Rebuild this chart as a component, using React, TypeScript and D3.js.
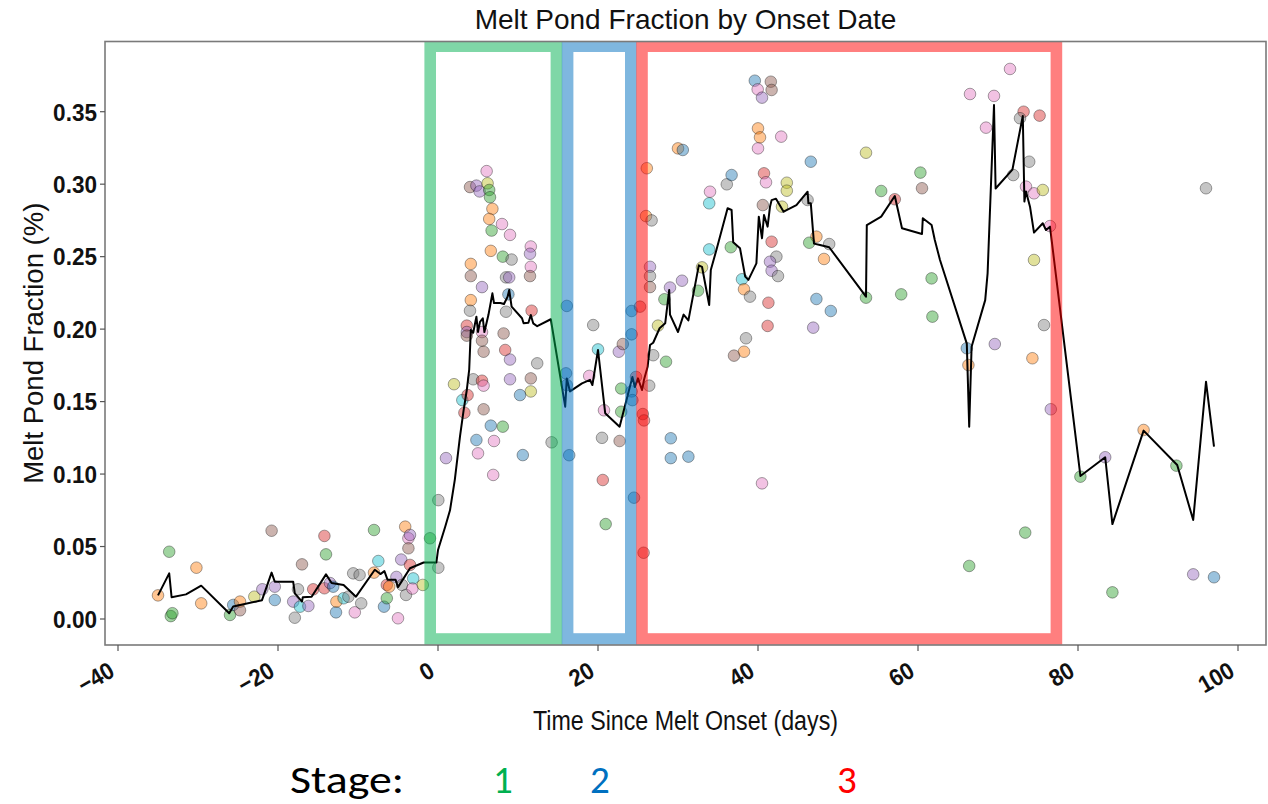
import React from "react";
import * as d3 from "d3";

// ---------- data ----------
const pointDay: number[] = [
  -35, -33.6, -33.4, -33.2, -30.2, -29.6, -26, -25.6, -24.75, -24.75, -22.96, -21.96, -20.8, -20.4, -20.4,
  -17.5, -18.1, -17.9, -17.25, -16.2, -17, -15.6, -14.2, -14, -14.2, -13.5, -13.1, -12.75, -12.7, -11.8,
  -11.2, -10.6, -9.8, -10.4, -9.6, -8, -8, -7.46, -6.75, -6.4, -6.4, -6.1, -5.2, -5, -4.6,
  -4.1, -3.7, -3.5, -3.7, -3.5, -4.5, -4, -3.1, -3.2, -1.9, -1, 0.04, 0.04, 1, 2,
  // stage 1
  6.08, 4, 4.8, 5.2, 6.2, 6.4, 6.5, 6.8, 6.4, 6.7, 8.0, 9, 6.6, 8.1, 9.2,
  11.6, 11.5, 11.6, 11.5, 4.1, 4.1, 8.5, 8.9, 5.5, 8.8, 4.1, 4, 8.5, 11.7, 3.6,
  3.6, 3.6, 5.5, 5.5, 5.7, 8.2, 8.4, 9, 12.4, 4.4, 5.5, 5.7, 9, 11.6, 11.6,
  10.25, 3.04, 3.7, 3.3, 5.7, 6.6, 8.1, 4.8, 7.0, 14.2, 5.0, 10.6, 6.9,
  // stage 2
  16.1, 16, 16.1, 16.4, 19.4, 20, 18.9, 22.6, 23.1, 24.2, 22.9, 20.75, 22.9, 20.5, 22.7,
  20.6, 20.96, 24.5, 25.7, 24.75, 24.2, 24.3, 24.2, 25.25,
  // stage 3
  26.1, 26, 26.7, 26.5, 26.5, 26.5, 25.6, 25.75, 26.4, 26.9, 28.5, 27.5, 29.1, 29.1, 31.3,
  40.5, 28.3, 29, 30.5, 32.5, 33, 33.9, 33.9, 34, 36.1, 36.7, 36.6, 38, 38.25, 39,
  38.5, 38.25, 37, 40.75, 41, 40.6, 41.7, 42.3, 41.5, 41.7, 42.5, 41.3, 41.2, 43.6, 43.6,
  43, 39.6, 41.6, 39.96, 41.7, 40.5, 40, 40.25, 40, 42.9, 30, 30.6, 46.6, 53.5, 60.3,
  60.5, 55.4, 57.1, 46.2, 47.3, 46.4, 48.9, 48.25, 53.5, 57.9, 61.7, 61.8, 47.3, 49.1, 46.9,
  66.1, 66.3, 69.6, 66.4, 71.5, 66.5, 69.5, 68.5, 73.2, 72.75, 75.2, 73.9, 71.9, 73.5, 74.5,
  75.6, 76.5, 74.5, 75.75, 74.3, 76.6, 73.4,
  // after
  80.3, 83.4, 88.2, 92.3, 84.3, 94.4, 97, 96,
];

const pointValue: number[] = [
  0.0163, 0.0464, 0.002, 0.004, 0.0354, 0.0108, 0.0028, 0.0097, 0.012, 0.006, 0.0154, 0.0205, 0.0609, 0.0223, 0.0131,
  0.0205, 0.012, 0.0009, 0.0085, 0.009, 0.0377, 0.0205, 0.0573, 0.0446, 0.0212, 0.0248, 0.0223, 0.0046, 0.012, 0.0143,
  0.0154, 0.0315, 0.0304, 0.0046, 0.0108, 0.0614, 0.032, 0.04, 0.0085, 0.0143, 0.0235, 0.0223, 0.029, 0.0005, 0.041,
  0.0637, 0.0557, 0.058, 0.0488, 0.0373, 0.0235, 0.0166, 0.028, 0.021, 0.0235, 0.0557, 0.082, 0.0354, 0.111, 0.162,
  0.309, 0.298, 0.299, 0.295, 0.3006, 0.296, 0.291, 0.283, 0.276, 0.268, 0.2725, 0.265, 0.254, 0.25, 0.248,
  0.257, 0.252, 0.243, 0.2366, 0.245, 0.2366, 0.2357, 0.2357, 0.229, 0.224, 0.22, 0.2127, 0.212, 0.2127, 0.2024,
  0.198, 0.1955, 0.198, 0.192, 0.1844, 0.197, 0.1856, 0.179, 0.1764, 0.1654, 0.1644, 0.161, 0.1654, 0.166, 0.157,
  0.1545, 0.151, 0.1545, 0.1423, 0.1447, 0.1334, 0.1327, 0.1235, 0.1228, 0.1219, 0.1143, 0.1131, 0.0994,
  0.216, 0.1695, 0.1614, 0.113, 0.2028, 0.186, 0.1677, 0.1844, 0.1897, 0.1964, 0.159, 0.144, 0.143, 0.125, 0.1228,
  0.0959, 0.0655, 0.0837, 0.0457, 0.167, 0.157, 0.151, 0.2125, 0.2155,
  0.311, 0.278, 0.275, 0.243, 0.2366, 0.229, 0.1414, 0.137, 0.161, 0.182, 0.1775, 0.2024, 0.1247, 0.111, 0.112,
  0.0936, 0.2206, 0.2287, 0.2334, 0.2265, 0.2426, 0.255, 0.2868, 0.2948, 0.2999, 0.3063, 0.2565, 0.2344, 0.2275, 0.2224,
  0.1937, 0.1844, 0.1817, 0.3075, 0.3013, 0.2856, 0.2603, 0.25, 0.2465, 0.2403, 0.2366, 0.2182, 0.2022, 0.301, 0.2955,
  0.2845, 0.3714, 0.3707, 0.3654, 0.365, 0.3597, 0.3385, 0.3323, 0.3247, 0.3328, 0.3247, 0.3236, 0.3155, 0.3217, 0.308,
  0.2972, 0.2953, 0.2896, 0.2891, 0.2638, 0.2596, 0.2587, 0.2484, 0.2217, 0.224, 0.235, 0.2086, 0.2208, 0.2125, 0.201,
  0.1868, 0.1752, 0.1897, 0.0366, 0.3795, 0.3622, 0.3609, 0.339, 0.35, 0.3455, 0.3473, 0.3155, 0.3063, 0.2983, 0.2937,
  0.296, 0.2711, 0.2477, 0.2028, 0.1799, 0.1447, 0.0596,
  0.0982, 0.1116, 0.1304, 0.1058, 0.0184, 0.0308, 0.0288, 0.2972,
];

// series group index (0..9, matplotlib tab10 order)
const pointGroup: number[] = [
  1, 2, 2, 2, 1, 1, 2, 0, 1, 5, 8, 4, 5, 4, 0,
  7, 4, 7, 9, 4, 5, 3, 3, 2, 3, 4, 0, 0, 1, 9,
  7, 7, 7, 6, 7, 2, 1, 9, 0, 2, 3, 1, 4, 6, 4,
  1, 6, 4, 5, 3, 7, 7, 9, 6, 8, 2, 7, 7, 4, 8,
  6, 5, 4, 4, 8, 2, 2, 1, 1, 2, 6, 6, 1, 2, 7,
  6, 4, 6, 5, 1, 5, 7, 4, 4, 0, 1, 7, 7, 3, 3,
  4, 5, 6, 5, 5, 5, 3, 4, 7, 7, 3, 6, 4, 5, 8,
  0, 9, 3, 3, 5, 0, 2, 0, 6, 7, 6, 0, 6,
  0, 0, 0, 0, 7, 9, 6, 4, 5, 0, 2, 6, 2, 7, 5,
  3, 2, 0, 3, 3, 0, 0, 0, 3,
  1, 1, 7, 4, 7, 5, 3, 3, 7, 7, 2, 8, 0, 0, 0,
  6, 2, 4, 4, 2, 8, 9, 9, 6, 7, 0, 2, 9, 1, 7,
  7, 1, 5, 3, 6, 5, 3, 7, 4, 4, 7, 3, 3, 8, 8,
  8, 0, 5, 6, 5, 4, 1, 1, 6, 6, 1, 0, 0, 8, 2,
  5, 2, 3, 7, 1, 2, 7, 1, 2, 2, 2, 2, 0, 0, 4,
  0, 1, 4, 2, 6, 6, 6, 6, 3, 7, 3, 7, 7, 6, 6,
  8, 6, 8, 7, 1, 4, 2,
  2, 4, 1, 2, 2, 4, 0, 7,
];

const lineDay: number[] = [
  -35, -33.6, -33.3, -31.5, -29.6, -26.1, -25.6, -22, -20.8, -20.4, -18.1, -17.9, -17, -16.9, -15.8,
  -14, -13.3, -11.8, -10.25, -7.9, -7.2, -6.7, -6.3, -5.3, -5, -4.3, -3.5, -1.8, -0.2, 0,
  0.9, 1.5, 2.1, 2.75, 3.2, 3.6, 3.9, 4.1, 4.4, 4.8, 5.0, 5.25, 5.6, 5.8, 6.3,
  6.8, 7.0, 7.8, 8.25, 8.7, 8.9, 9.2, 10.5, 10.7, 11.3, 11.6, 11.9, 12.4, 14.1, 15.9,
  16.1, 16.5, 18, 19, 19.3, 20, 20.9, 22.7, 24.3, 24.6, 25, 25.5, 25.75, 26.2, 26.5,
  26.9, 27.7, 28.4, 28.9, 29, 30, 30.7, 31.3, 32.6, 33, 33.9, 34.1, 34.8, 36.2, 36.7,
  36.9, 37.75, 38.4, 38.8, 39.8, 40.1, 40.5, 40.75, 41.2, 41.5, 41.7, 42.25, 43.2, 44.8, 46.2,
  46.3, 46.6, 47, 47.75, 48.9, 53.5, 53.6, 55.4, 57.1, 58, 60.5, 60.6, 61.7, 62.1, 62.75,
  66.1, 66.4, 66.7, 68.4, 68.7, 69.5, 69.7, 71.8, 73.1, 73.3, 73.5, 74, 74.5, 75.6, 76,
  76.5, 80.3, 83.4, 84.3, 88.2, 92.4, 94.4, 96, 97,
];

const lineValue: number[] = [
  0.0163, 0.0315, 0.015, 0.017, 0.023, 0.004, 0.0086, 0.013, 0.032, 0.0257, 0.0257, 0.0177, 0.012, 0.015, 0.0154,
  0.0308, 0.0248, 0.0235, 0.0154, 0.034, 0.031, 0.033, 0.027, 0.027, 0.022, 0.028, 0.035, 0.039, 0.039, 0.0476,
  0.0637, 0.075, 0.096, 0.126, 0.144, 0.158, 0.172, 0.1994, 0.1975, 0.2086, 0.198, 0.205, 0.2075, 0.198, 0.2097,
  0.2247, 0.218, 0.218, 0.2173, 0.2224, 0.227, 0.2155, 0.2075, 0.204, 0.2044, 0.2097, 0.204, 0.202, 0.2068, 0.1465,
  0.166, 0.157, 0.1626, 0.165, 0.1614, 0.1856, 0.142, 0.1327, 0.167, 0.16, 0.166, 0.158, 0.165, 0.174, 0.189,
  0.1906, 0.2006, 0.204, 0.227, 0.21, 0.198, 0.21, 0.206, 0.244, 0.243, 0.2166, 0.2408, 0.2546, 0.2834, 0.2822,
  0.26, 0.2558, 0.2362, 0.234, 0.2454, 0.2776, 0.2627, 0.2787, 0.2707, 0.2845, 0.289, 0.29, 0.281, 0.2856, 0.2948,
  0.2868, 0.2868, 0.259, 0.258, 0.2565, 0.2224, 0.2718, 0.2776, 0.2918, 0.2696, 0.2656, 0.2765, 0.2718, 0.2615, 0.2477,
  0.19, 0.1327, 0.1879, 0.22, 0.2385, 0.3546, 0.297, 0.31, 0.347, 0.288, 0.295, 0.2845, 0.2666, 0.273, 0.2684,
  0.2707, 0.0987, 0.1116, 0.0655, 0.13, 0.1062, 0.0683, 0.1637, 0.1189,
];

const xTicks: number[] = [-40, -20, 0, 20, 40, 60, 80, 100];
const yTicks: number[] = [0, 0.05, 0.1, 0.15, 0.2, 0.25, 0.3, 0.35];

const stageLabels: string[] = ["1", "2", "3"];
const stageStart: number[] = [-0.975, 16.2, 25.5];
const stageEnd: number[] = [14.8, 24.1, 77.3];
const stageColors: string[] = ["#00b050", "#0070c0", "#ff0000"];

const titleText = "Melt Pond Fraction by Onset Date";
const xLabelText = "Time Since Melt Onset (days)";
const yLabelText = "Melt Pond Fraction (%)";

// ---------- layout ----------
const W = 1268;
const H = 804;
const L = 105, R = 1266, T = 41.5, B = 645;
const stageTextX = [503, 600, 847];

export default function App() {
  const x = d3.scaleLinear().domain([-41.625, 103.5]).range([L, R]);
  const y = d3.scaleLinear().domain([-0.01794, 0.39844]).range([B, T]);
  const color = d3.scaleOrdinal<number, string>().domain(d3.range(10)).range(d3.schemeCategory10);
  const line = d3.line<number>().x((_, i) => x(lineDay[i])).y((_, i) => y(lineValue[i]));
  const boxTop = y(0.3952);
  const boxBottom = y(-0.0138);
  const fmt = d3.format(".2f");
  const sans = "'Liberation Sans', Arial, sans-serif";
  const stageFont = "Carlito, Calibri, Lato, sans-serif";

  return (
    <svg width={W} height={H} style={{ position: "absolute", left: 0, top: 0, background: "#fff" }}>
      <defs>
        <clipPath id="plotclip">
          <rect x={L} y={T} width={R - L} height={B - T} />
        </clipPath>
      </defs>
      <rect x={0} y={0} width={W} height={H} fill="#fff" />
      <g clipPath="url(#plotclip)">
        {pointDay.map((d, i) => (
          <circle
            key={i}
            cx={x(d)}
            cy={y(pointValue[i])}
            r={5.8}
            fill={color(pointGroup[i])}
            fillOpacity={0.45}
            stroke="#000"
            strokeOpacity={0.35}
            strokeWidth={1}
          />
        ))}
        <path d={line(lineDay) || ""} fill="none" stroke="#000" strokeWidth={2} strokeLinejoin="round" />
        {stageLabels.map((s, i) => (
          <rect
            key={s}
            x={x(stageStart[i])}
            y={boxTop}
            width={x(stageEnd[i]) - x(stageStart[i])}
            height={boxBottom - boxTop}
            fill="none"
            stroke={stageColors[i]}
            strokeOpacity={0.5}
            strokeWidth={11.6}
          />
        ))}
      </g>
      {/* frame */}
      <rect x={L} y={T} width={R - L} height={B - T} fill="none" stroke="#7a7a7a" strokeWidth={1.6} />
      {/* y ticks */}
      {yTicks.map((t) => (
        <g key={t}>
          <line x1={L - 5} x2={L} y1={y(t)} y2={y(t)} stroke="#555" strokeWidth={1.2} />
          <text
            x={97}
            y={y(t)}
            dy="0.36em"
            textAnchor="end"
            fontFamily={sans}
            fontWeight="bold"
            fontSize={24.5}
            fill="#111"
            transform={`translate(97,0) scale(0.92,1) translate(-97,0)`}
          >
            {fmt(t)}
          </text>
        </g>
      ))}
      {/* x ticks */}
      {xTicks.map((t) => (
        <g key={t}>
          <line x1={x(t)} x2={x(t)} y1={B} y2={B + 6} stroke="#555" strokeWidth={1.2} />
          <g transform={`translate(${x(t) - 6},668) rotate(-30) scale(0.92,1)`}>
            <text
              x={0}
              y={0}
              dy="0.35em"
              textAnchor="end"
              fontFamily={sans}
              fontWeight="bold"
              fontSize={24}
              fill="#111"
            >
              {t < 0 ? "\u2212" + Math.abs(t) : String(t)}
            </text>
          </g>
        </g>
      ))}
      {/* title */}
      <text x={(L + R) / 2} y={29} textAnchor="middle" fontFamily={sans} fontSize={28} fill="#111">
        {titleText}
      </text>
      {/* axis labels */}
      <text
        x={(L + R) / 2}
        y={730}
        textAnchor="middle"
        fontFamily={sans}
        fontSize={27}
        fill="#111"
        textLength={305}
        lengthAdjust="spacingAndGlyphs"
      >
        {xLabelText}
      </text>
      <text
        transform={`translate(43,${(T + B) / 2}) rotate(-90)`}
        textAnchor="middle"
        fontFamily={sans}
        fontSize={27.5}
        fill="#111"
      >
        {yLabelText}
      </text>
      {/* stage labels */}
      <text
        x={290}
        y={793}
        fontFamily={stageFont}
        fontSize={39}
        fill="#000"
        textLength={114}
        lengthAdjust="spacingAndGlyphs"
      >
        Stage:
      </text>
      {stageLabels.map((s, i) => (
        <text
          key={s}
          x={stageTextX[i]}
          y={793}
          textAnchor="middle"
          fontFamily={stageFont}
          fontSize={39}
          fill={stageColors[i]}
        >
          {s}
        </text>
      ))}
    </svg>
  );
}
